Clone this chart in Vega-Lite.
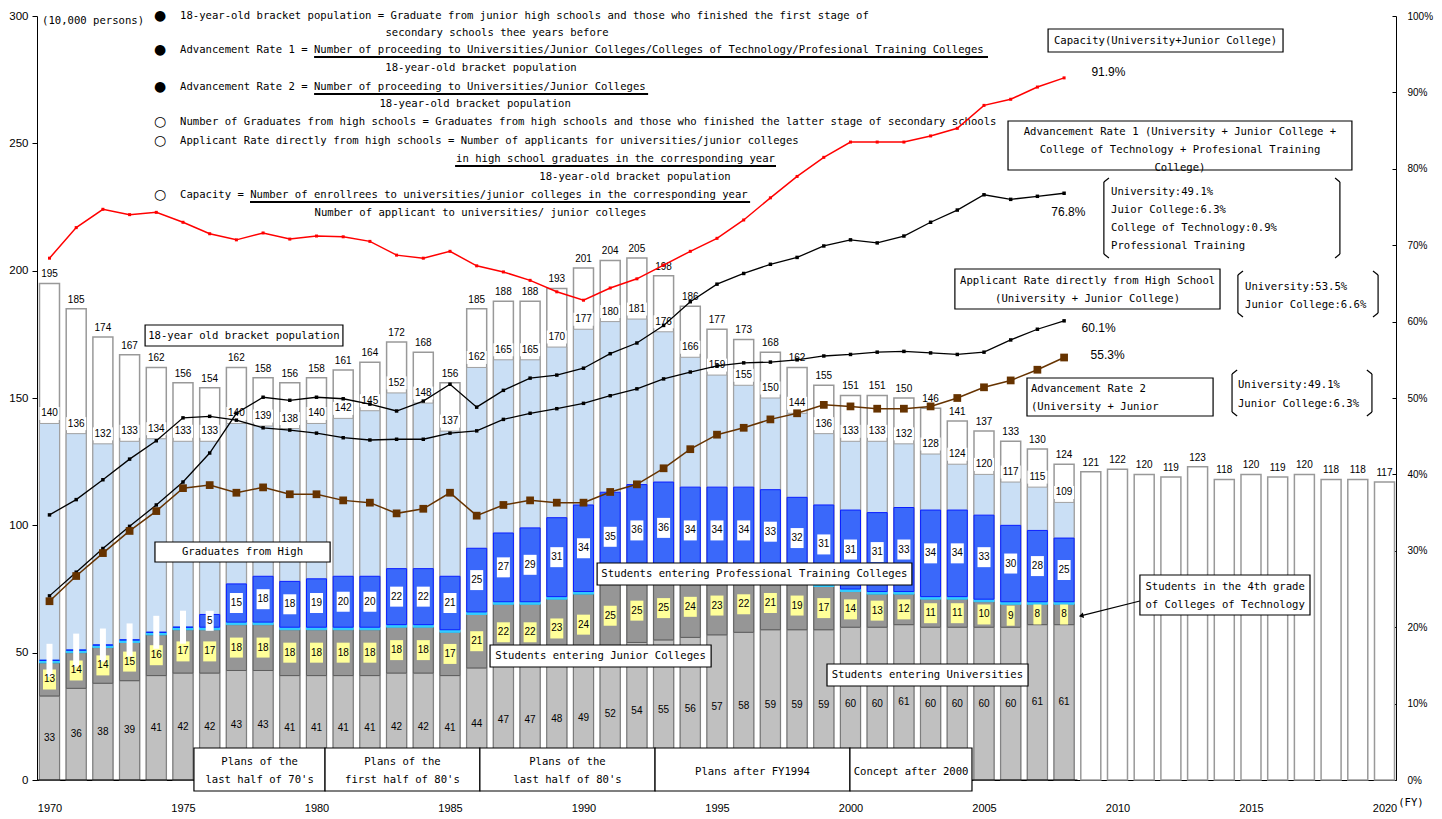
{
"$schema":"https://vega.github.io/schema/vega-lite/v6.json",
"width":1359,"height":764,
"autosize":{"type":"none"},
"padding":{"left":37,"top":16,"right":46,"bottom":39},
"background":"white",
"config":{"view":{"stroke":null},"axis":{"grid":false,"labelColor":"black","domainColor":"black","tickColor":"black"}},
"datasets":{
"bars":[
{"year":1970,"pop":195,"grads":140},{"year":1971,"pop":185,"grads":136},{"year":1972,"pop":174,"grads":132},{"year":1973,"pop":167,"grads":133},{"year":1974,"pop":162,"grads":134},
{"year":1975,"pop":156,"grads":133},{"year":1976,"pop":154,"grads":133},{"year":1977,"pop":162,"grads":140},{"year":1978,"pop":158,"grads":139},{"year":1979,"pop":156,"grads":138},
{"year":1980,"pop":158,"grads":140},{"year":1981,"pop":161,"grads":142},{"year":1982,"pop":164,"grads":145},{"year":1983,"pop":172,"grads":152},{"year":1984,"pop":168,"grads":148},
{"year":1985,"pop":156,"grads":137},{"year":1986,"pop":185,"grads":162},{"year":1987,"pop":188,"grads":165},{"year":1988,"pop":188,"grads":165},{"year":1989,"pop":193,"grads":170},
{"year":1990,"pop":201,"grads":177},{"year":1991,"pop":204,"grads":180},{"year":1992,"pop":205,"grads":181},{"year":1993,"pop":198,"grads":176},{"year":1994,"pop":186,"grads":166},
{"year":1995,"pop":177,"grads":159},{"year":1996,"pop":173,"grads":155},{"year":1997,"pop":168,"grads":150},{"year":1998,"pop":162,"grads":144},{"year":1999,"pop":155,"grads":136},
{"year":2000,"pop":151,"grads":133},{"year":2001,"pop":151,"grads":133},{"year":2002,"pop":150,"grads":132},{"year":2003,"pop":146,"grads":128},{"year":2004,"pop":141,"grads":124},
{"year":2005,"pop":137,"grads":120},{"year":2006,"pop":133,"grads":117},{"year":2007,"pop":130,"grads":115},{"year":2008,"pop":124,"grads":109},
{"year":2009,"pop":121},{"year":2010,"pop":122},{"year":2011,"pop":120},{"year":2012,"pop":119},{"year":2013,"pop":123},{"year":2014,"pop":118},
{"year":2015,"pop":120},{"year":2016,"pop":119},{"year":2017,"pop":120},{"year":2018,"pop":118},{"year":2019,"pop":118},{"year":2020,"pop":117}
],
"seg":[
{"year":1970,"cat":"Univ","k":1,"n":33},{"year":1970,"cat":"JC","k":2,"n":13},{"year":1970,"cat":"Tech","k":3,"n":1},{"year":1970,"cat":"Prof","k":4,"n":0},
{"year":1971,"cat":"Univ","k":1,"n":36},{"year":1971,"cat":"JC","k":2,"n":14},{"year":1971,"cat":"Tech","k":3,"n":1},{"year":1971,"cat":"Prof","k":4,"n":0},
{"year":1972,"cat":"Univ","k":1,"n":38},{"year":1972,"cat":"JC","k":2,"n":14},{"year":1972,"cat":"Tech","k":3,"n":1},{"year":1972,"cat":"Prof","k":4,"n":0},
{"year":1973,"cat":"Univ","k":1,"n":39},{"year":1973,"cat":"JC","k":2,"n":15},{"year":1973,"cat":"Tech","k":3,"n":1},{"year":1973,"cat":"Prof","k":4,"n":0},
{"year":1974,"cat":"Univ","k":1,"n":41},{"year":1974,"cat":"JC","k":2,"n":16},{"year":1974,"cat":"Tech","k":3,"n":1},{"year":1974,"cat":"Prof","k":4,"n":0},
{"year":1975,"cat":"Univ","k":1,"n":42},{"year":1975,"cat":"JC","k":2,"n":17},{"year":1975,"cat":"Tech","k":3,"n":1},{"year":1975,"cat":"Prof","k":4,"n":0},
{"year":1976,"cat":"Univ","k":1,"n":42},{"year":1976,"cat":"JC","k":2,"n":17},{"year":1976,"cat":"Tech","k":3,"n":1},{"year":1976,"cat":"Prof","k":4,"n":5},
{"year":1977,"cat":"Univ","k":1,"n":43},{"year":1977,"cat":"JC","k":2,"n":18},{"year":1977,"cat":"Tech","k":3,"n":1},{"year":1977,"cat":"Prof","k":4,"n":15},
{"year":1978,"cat":"Univ","k":1,"n":43},{"year":1978,"cat":"JC","k":2,"n":18},{"year":1978,"cat":"Tech","k":3,"n":1},{"year":1978,"cat":"Prof","k":4,"n":18},
{"year":1979,"cat":"Univ","k":1,"n":41},{"year":1979,"cat":"JC","k":2,"n":18},{"year":1979,"cat":"Tech","k":3,"n":1},{"year":1979,"cat":"Prof","k":4,"n":18},
{"year":1980,"cat":"Univ","k":1,"n":41},{"year":1980,"cat":"JC","k":2,"n":18},{"year":1980,"cat":"Tech","k":3,"n":1},{"year":1980,"cat":"Prof","k":4,"n":19},
{"year":1981,"cat":"Univ","k":1,"n":41},{"year":1981,"cat":"JC","k":2,"n":18},{"year":1981,"cat":"Tech","k":3,"n":1},{"year":1981,"cat":"Prof","k":4,"n":20},
{"year":1982,"cat":"Univ","k":1,"n":41},{"year":1982,"cat":"JC","k":2,"n":18},{"year":1982,"cat":"Tech","k":3,"n":1},{"year":1982,"cat":"Prof","k":4,"n":20},
{"year":1983,"cat":"Univ","k":1,"n":42},{"year":1983,"cat":"JC","k":2,"n":18},{"year":1983,"cat":"Tech","k":3,"n":1},{"year":1983,"cat":"Prof","k":4,"n":22},
{"year":1984,"cat":"Univ","k":1,"n":42},{"year":1984,"cat":"JC","k":2,"n":18},{"year":1984,"cat":"Tech","k":3,"n":1},{"year":1984,"cat":"Prof","k":4,"n":22},
{"year":1985,"cat":"Univ","k":1,"n":41},{"year":1985,"cat":"JC","k":2,"n":17},{"year":1985,"cat":"Tech","k":3,"n":1},{"year":1985,"cat":"Prof","k":4,"n":21},
{"year":1986,"cat":"Univ","k":1,"n":44},{"year":1986,"cat":"JC","k":2,"n":21},{"year":1986,"cat":"Tech","k":3,"n":1},{"year":1986,"cat":"Prof","k":4,"n":25},
{"year":1987,"cat":"Univ","k":1,"n":47},{"year":1987,"cat":"JC","k":2,"n":22},{"year":1987,"cat":"Tech","k":3,"n":1},{"year":1987,"cat":"Prof","k":4,"n":27},
{"year":1988,"cat":"Univ","k":1,"n":47},{"year":1988,"cat":"JC","k":2,"n":22},{"year":1988,"cat":"Tech","k":3,"n":1},{"year":1988,"cat":"Prof","k":4,"n":29},
{"year":1989,"cat":"Univ","k":1,"n":48},{"year":1989,"cat":"JC","k":2,"n":23},{"year":1989,"cat":"Tech","k":3,"n":1},{"year":1989,"cat":"Prof","k":4,"n":31},
{"year":1990,"cat":"Univ","k":1,"n":49},{"year":1990,"cat":"JC","k":2,"n":24},{"year":1990,"cat":"Tech","k":3,"n":1},{"year":1990,"cat":"Prof","k":4,"n":34},
{"year":1991,"cat":"Univ","k":1,"n":52},{"year":1991,"cat":"JC","k":2,"n":25},{"year":1991,"cat":"Tech","k":3,"n":1},{"year":1991,"cat":"Prof","k":4,"n":35},
{"year":1992,"cat":"Univ","k":1,"n":54},{"year":1992,"cat":"JC","k":2,"n":25},{"year":1992,"cat":"Tech","k":3,"n":1},{"year":1992,"cat":"Prof","k":4,"n":36},
{"year":1993,"cat":"Univ","k":1,"n":55},{"year":1993,"cat":"JC","k":2,"n":25},{"year":1993,"cat":"Tech","k":3,"n":1},{"year":1993,"cat":"Prof","k":4,"n":36},
{"year":1994,"cat":"Univ","k":1,"n":56},{"year":1994,"cat":"JC","k":2,"n":24},{"year":1994,"cat":"Tech","k":3,"n":1},{"year":1994,"cat":"Prof","k":4,"n":34},
{"year":1995,"cat":"Univ","k":1,"n":57},{"year":1995,"cat":"JC","k":2,"n":23},{"year":1995,"cat":"Tech","k":3,"n":1},{"year":1995,"cat":"Prof","k":4,"n":34},
{"year":1996,"cat":"Univ","k":1,"n":58},{"year":1996,"cat":"JC","k":2,"n":22},{"year":1996,"cat":"Tech","k":3,"n":1},{"year":1996,"cat":"Prof","k":4,"n":34},
{"year":1997,"cat":"Univ","k":1,"n":59},{"year":1997,"cat":"JC","k":2,"n":21},{"year":1997,"cat":"Tech","k":3,"n":1},{"year":1997,"cat":"Prof","k":4,"n":33},
{"year":1998,"cat":"Univ","k":1,"n":59},{"year":1998,"cat":"JC","k":2,"n":19},{"year":1998,"cat":"Tech","k":3,"n":1},{"year":1998,"cat":"Prof","k":4,"n":32},
{"year":1999,"cat":"Univ","k":1,"n":59},{"year":1999,"cat":"JC","k":2,"n":17},{"year":1999,"cat":"Tech","k":3,"n":1},{"year":1999,"cat":"Prof","k":4,"n":31},
{"year":2000,"cat":"Univ","k":1,"n":60},{"year":2000,"cat":"JC","k":2,"n":14},{"year":2000,"cat":"Tech","k":3,"n":1},{"year":2000,"cat":"Prof","k":4,"n":31},
{"year":2001,"cat":"Univ","k":1,"n":60},{"year":2001,"cat":"JC","k":2,"n":13},{"year":2001,"cat":"Tech","k":3,"n":1},{"year":2001,"cat":"Prof","k":4,"n":31},
{"year":2002,"cat":"Univ","k":1,"n":61},{"year":2002,"cat":"JC","k":2,"n":12},{"year":2002,"cat":"Tech","k":3,"n":1},{"year":2002,"cat":"Prof","k":4,"n":33},
{"year":2003,"cat":"Univ","k":1,"n":60},{"year":2003,"cat":"JC","k":2,"n":11},{"year":2003,"cat":"Tech","k":3,"n":1},{"year":2003,"cat":"Prof","k":4,"n":34},
{"year":2004,"cat":"Univ","k":1,"n":60},{"year":2004,"cat":"JC","k":2,"n":11},{"year":2004,"cat":"Tech","k":3,"n":1},{"year":2004,"cat":"Prof","k":4,"n":34},
{"year":2005,"cat":"Univ","k":1,"n":60},{"year":2005,"cat":"JC","k":2,"n":10},{"year":2005,"cat":"Tech","k":3,"n":1},{"year":2005,"cat":"Prof","k":4,"n":33},
{"year":2006,"cat":"Univ","k":1,"n":60},{"year":2006,"cat":"JC","k":2,"n":9},{"year":2006,"cat":"Tech","k":3,"n":1},{"year":2006,"cat":"Prof","k":4,"n":30},
{"year":2007,"cat":"Univ","k":1,"n":61},{"year":2007,"cat":"JC","k":2,"n":8},{"year":2007,"cat":"Tech","k":3,"n":1},{"year":2007,"cat":"Prof","k":4,"n":28},
{"year":2008,"cat":"Univ","k":1,"n":61},{"year":2008,"cat":"JC","k":2,"n":8},{"year":2008,"cat":"Tech","k":3,"n":1},{"year":2008,"cat":"Prof","k":4,"n":25}
],
"rates":[
{"year":1970,"cap":68.3,"adv1":24.1,"appl":34.7,"adv2":23.4},{"year":1971,"cap":72.3,"adv1":27.2,"appl":36.7,"adv2":26.7},
{"year":1972,"cap":74.7,"adv1":30.3,"appl":39.3,"adv2":29.7},{"year":1973,"cap":74.0,"adv1":33.2,"appl":42.0,"adv2":32.6},
{"year":1974,"cap":74.3,"adv1":36.0,"appl":44.4,"adv2":35.2},{"year":1975,"cap":73.0,"adv1":39.0,"appl":47.4,"adv2":38.2},
{"year":1976,"cap":71.5,"adv1":42.8,"appl":47.6,"adv2":38.6},{"year":1977,"cap":70.7,"adv1":48.0,"appl":47.1,"adv2":37.6},
{"year":1978,"cap":71.6,"adv1":50.1,"appl":46.1,"adv2":38.3},{"year":1979,"cap":70.8,"adv1":49.7,"appl":45.8,"adv2":37.4},
{"year":1980,"cap":71.2,"adv1":50.1,"appl":45.4,"adv2":37.4},{"year":1981,"cap":71.1,"adv1":49.9,"appl":44.8,"adv2":36.6},
{"year":1982,"cap":70.5,"adv1":49.2,"appl":44.5,"adv2":36.3},{"year":1983,"cap":68.7,"adv1":48.3,"appl":44.6,"adv2":34.9},
{"year":1984,"cap":68.3,"adv1":49.6,"appl":44.6,"adv2":35.5},{"year":1985,"cap":69.2,"adv1":51.8,"appl":45.4,"adv2":37.6},
{"year":1986,"cap":67.3,"adv1":48.8,"appl":45.7,"adv2":34.6},{"year":1987,"cap":66.5,"adv1":51.0,"appl":47.2,"adv2":36.0},
{"year":1988,"cap":65.4,"adv1":52.6,"appl":48.0,"adv2":36.6},{"year":1989,"cap":63.9,"adv1":53.0,"appl":48.6,"adv2":36.3},
{"year":1990,"cap":62.8,"adv1":53.9,"appl":49.3,"adv2":36.3},{"year":1991,"cap":64.4,"adv1":55.8,"appl":50.3,"adv2":37.7},
{"year":1992,"cap":65.6,"adv1":57.2,"appl":51.2,"adv2":38.7},{"year":1993,"cap":67.4,"adv1":59.5,"appl":52.5,"adv2":40.8},
{"year":1994,"cap":69.2,"adv1":62.6,"appl":53.4,"adv2":43.3},{"year":1995,"cap":70.9,"adv1":64.9,"appl":54.2,"adv2":45.2},
{"year":1996,"cap":73.3,"adv1":66.3,"appl":54.6,"adv2":46.1},{"year":1997,"cap":76.2,"adv1":67.5,"appl":54.7,"adv2":47.2},
{"year":1998,"cap":79.0,"adv1":68.4,"appl":55.0,"adv2":48.0},{"year":1999,"cap":81.5,"adv1":69.9,"appl":55.5,"adv2":49.1},
{"year":2000,"cap":83.5,"adv1":70.7,"appl":55.7,"adv2":48.9},{"year":2001,"cap":83.5,"adv1":70.3,"appl":56.0,"adv2":48.6},
{"year":2002,"cap":83.5,"adv1":71.2,"appl":56.1,"adv2":48.6},{"year":2003,"cap":84.3,"adv1":73.0,"appl":55.9,"adv2":48.9},
{"year":2004,"cap":85.3,"adv1":74.6,"appl":55.7,"adv2":50.0},{"year":2005,"cap":88.3,"adv1":76.6,"appl":56.0,"adv2":51.4},
{"year":2006,"cap":89.1,"adv1":76.0,"appl":57.6,"adv2":52.3},{"year":2007,"cap":90.7,"adv1":76.4,"appl":59.0,"adv2":53.7},
{"year":2008,"cap":91.9,"adv1":76.8,"appl":60.1,"adv2":55.3}
],
"boxes":[
{"year":1973.58,"year2":1980.99,"level":170.42,"level2":178.66},
{"year":1973.95,"year2":1980.51,"level":85.60,"level2":93.45},
{"year":1990.51,"year2":2002.30,"level":76.57,"level2":85.21},
{"year":1986.50,"year2":1994.78,"level":44.37,"level2":53.01},
{"year":1999.12,"year2":2006.65,"level":36.91,"level2":45.55},
{"year":2010.84,"year2":2017.21,"level":64.79,"level2":80.50},
{"year":2007.40,"year2":2016.20,"level":285.86,"level2":294.89},
{"year":2005.90,"year2":2018.78,"level":239.53,"level2":258.77},
{"year":2003.91,"year2":2013.84,"level":184.94,"level2":200.65},
{"year":2006.61,"year2":2013.58,"level":142.93,"level2":157.85},
{"year":1975.41,"year2":1980.32,"level":-4.32,"level2":12.57},
{"year":1980.32,"year2":1986.12,"level":-4.32,"level2":12.57},
{"year":1986.12,"year2":1992.68,"level":-4.32,"level2":12.57},
{"year":1992.68,"year2":1999.98,"level":-4.32,"level2":12.57},
{"year":1999.98,"year2":2004.55,"level":-4.32,"level2":12.57}
],
"segs":[
{"year":1969.532,"year2":2008.5,"level":0,"level2":0},
{"year":2009.49,"year2":2009.49,"level":234.81,"level2":206.54},
{"year":2009.49,"year2":2009.68,"level":234.81,"level2":236.38},
{"year":2009.49,"year2":2009.68,"level":206.54,"level2":204.97},
{"year":2018.33,"year2":2018.33,"level":234.81,"level2":206.54},
{"year":2018.33,"year2":2018.15,"level":234.81,"level2":236.38},
{"year":2018.33,"year2":2018.15,"level":206.54,"level2":204.97},
{"year":2014.51,"year2":2014.51,"level":198.30,"level2":183.37},
{"year":2014.51,"year2":2014.70,"level":198.30,"level2":199.87},
{"year":2014.51,"year2":2014.70,"level":183.37,"level2":181.80},
{"year":2019.76,"year2":2019.76,"level":198.30,"level2":183.37},
{"year":2019.76,"year2":2019.57,"level":198.30,"level2":199.87},
{"year":2019.76,"year2":2019.57,"level":183.37,"level2":181.80},
{"year":2014.29,"year2":2014.29,"level":159.42,"level2":144.50},
{"year":2014.29,"year2":2014.48,"level":159.42,"level2":160.99},
{"year":2014.29,"year2":2014.48,"level":144.50,"level2":142.93},
{"year":2019.53,"year2":2019.53,"level":159.42,"level2":144.50},
{"year":2019.53,"year2":2019.34,"level":159.42,"level2":160.99},
{"year":2019.53,"year2":2019.34,"level":144.50,"level2":142.93},
{"year":2010.84,"year2":2008.62,"level":70.29,"level2":64.45}
],
"ulines":[
{"year":1979.91,"year2":2005.15,"level":283.90,"level2":283.90},
{"year":1979.91,"year2":1992.42,"level":269.37,"level2":269.37},
{"year":1985.19,"year2":1997.21,"level":241.10,"level2":241.10},
{"year":1977.51,"year2":1996.24,"level":226.96,"level2":226.96}
],
"arrow":[{"year":2008.64,"level":64.5}],
"notesC":[
{"t":"18-year old bracket population","year":1977.28,"level":174.34},
{"t":"Graduates from High","year":1977.23,"level":89.53},
{"t":"Students entering Professional Training Colleges","year":1996.40,"level":80.89},
{"t":"Students entering Junior Colleges","year":1990.64,"level":48.69},
{"t":"Students entering Universities","year":2002.88,"level":41.23},
{"t":"Students in the 4th grade","year":2014.03,"level":75.78},
{"t":"of Colleges of Technology","year":2014.03,"level":68.72},
{"t":"Capacity(University+Junior College)","year":2011.80,"level":290.18},
{"t":"Advancement Rate 1 (University + Junior College +","year":2012.34,"level":254.45},
{"t":"College of Technology + Profesional Training","year":2012.34,"level":247.38},
{"t":"College)","year":2012.34,"level":240.31},
{"t":"Applicant Rate directly from High School","year":2008.88,"level":195.94},
{"t":"(University + Junior College)","year":2008.88,"level":188.87},
{"t":"Plans of the","year":1977.87,"level":7.07},
{"t":"last half of 70's","year":1977.87,"level":0.0},
{"t":"Plans of the","year":1983.22,"level":7.07},
{"t":"first half of 80's","year":1983.22,"level":0.0},
{"t":"Plans of the","year":1989.40,"level":7.07},
{"t":"last half of 80's","year":1989.40,"level":0.0},
{"t":"Plans after FY1994","year":1996.33,"level":3.14},
{"t":"Concept after 2000","year":2002.27,"level":3.14},
{"t":"secondary schools thee years before","year":1986.76,"level":293.32},
{"t":"18-year-old bracket population","year":1986.16,"level":279.58},
{"t":"18-year-old bracket population","year":1985.94,"level":265.44},
{"t":"in high school graduates in the corresponding year","year":1991.20,"level":243.84},
{"t":"18-year-old bracket population","year":1991.93,"level":236.78},
{"t":"Number of applicant to universities/ junior colleges","year":1986.14,"level":222.64},
{"t":"(FY)","year":2020.99,"level":-9.03}
],
"notesL":[
{"t":"18-year-old bracket population = Graduate from junior high schools and those who finished the first stage of","year":1974.89,"level":300.0},
{"t":"Advancement Rate 1 = Number of proceeding to Universities/Junior Colleges/Colleges of Technology/Profesional Training Colleges","year":1974.89,"level":286.64},
{"t":"Advancement Rate 2 = Number of proceeding to Universities/Junior Colleges","year":1974.89,"level":272.12},
{"t":"Number of Graduates from high schools = Graduates from high schools and those who finished the latter stage of secondary schools","year":1974.89,"level":258.37},
{"t":"Applicant Rate directly from high schools = Number of applicants for universities/junior colleges","year":1974.89,"level":250.91},
{"t":"Capacity = Number of enrollrees to universities/junior colleges in the corresponding year","year":1974.89,"level":229.71},
{"t":"University:49.1%","year":2009.76,"level":230.89},
{"t":"Juior College:6.3%","year":2009.76,"level":223.82},
{"t":"College of Technology:0.9%","year":2009.76,"level":216.75},
{"t":"Professional Training","year":2009.76,"level":209.68},
{"t":"University:53.5%","year":2014.78,"level":193.58},
{"t":"Junior College:6.6%","year":2014.78,"level":186.52},
{"t":"Advancement Rate 2","year":2006.76,"level":153.53},
{"t":"(University + Junior","year":2006.76,"level":146.46},
{"t":"University:49.1%","year":2014.51,"level":155.10},
{"t":"Junior College:6.3%","year":2014.51,"level":147.64},
{"t":"(10,000 persons)","year":1969.72,"level":298.03}
],
"bullets":[
{"t":"●","year":1974.14,"level":300.0},{"t":"●","year":1974.14,"level":286.64},{"t":"●","year":1974.14,"level":272.12},
{"t":"○","year":1974.14,"level":258.37},{"t":"○","year":1974.14,"level":250.91},{"t":"○","year":1974.14,"level":229.71}
],
"pcts":[
{"t":"91.9%","year":2009.66,"level":278.01},{"t":"76.8%","year":2008.16,"level":223.03},
{"t":"60.1%","year":2009.29,"level":177.48},{"t":"55.3%","year":2009.63,"level":166.88}
]
},
"encoding":{
 "x":{"field":"year","type":"quantitative","scale":{"domain":[1969.532,2020.431],"nice":false,"zero":false,"padding":0},
      "axis":{"values":[1970,1975,1980,1985,1990,1995,2000,2005,2010,2015,2020],"format":"d","tickSize":0,"labelPadding":22,"title":null,"labelFont":"Liberation Sans","labelFontSize":11}}
},
"layer":[
{"layer":[
{"data":{"name":"bars"},
 "mark":{"type":"bar","size":20,"orient":"vertical","fill":"white","stroke":"#999999","strokeWidth":1.5},
 "encoding":{
  "y":{"field":"pop","type":"quantitative","scale":{"domain":[0,300],"nice":false,"zero":false},
       "axis":{"values":[0,50,100,150,200,250,300],"title":null,"tickSize":5,"labelPadding":4,"labelFont":"Liberation Sans","labelFontSize":11.5}}}},
{"data":{"name":"bars"},"transform":[{"filter":"isValid(datum.grads)"}],
 "mark":{"type":"bar","size":20,"orient":"vertical","fill":"#CADFF5","stroke":"#A0A0A0","strokeWidth":1},
 "encoding":{
  "y":{"field":"grads","type":"quantitative","scale":{"domain":[0,300],"nice":false,"zero":false},
       "axis":{"values":[0,50,100,150,200,250,300],"title":null,"tickSize":5,"labelPadding":4,"labelFont":"Liberation Sans","labelFontSize":11.5}}}},
{"data":{"name":"seg"},
 "mark":{"type":"bar","size":20,"orient":"vertical","strokeWidth":1},
 "encoding":{
  "y":{"field":"n","type":"quantitative","stack":"zero","scale":{"domain":[0,300],"nice":false,"zero":false},
       "axis":{"values":[0,50,100,150,200,250,300],"title":null,"tickSize":5,"labelPadding":4,"labelFont":"Liberation Sans","labelFontSize":11.5}},
  "detail":{"field":"cat"},
  "order":{"field":"k","type":"quantitative"},
  "fill":{"condition":[{"test":"datum.cat==='Univ'","value":"#C0C0C0"},{"test":"datum.cat==='JC'","value":"#969696"},{"test":"datum.cat==='Tech'","value":"#33CCFF"}],"value":"#3A68FA"},
  "stroke":{"condition":[{"test":"datum.cat==='Univ'","value":"#7A7A7A"},{"test":"datum.cat==='JC'","value":"#5E5E5E"},{"test":"datum.cat==='Tech'","value":"#33CCFF"}],"value":"#0A1EFF"}}},
{"data":{"name":"seg"},
 "mark":{"type":"tick","orient":"horizontal","thickness":20},
 "encoding":{
  "y":{"field":"n","type":"quantitative","stack":"zero","bandPosition":0.5,"scale":{"domain":[0,300],"nice":false,"zero":false},
       "axis":{"values":[0,50,100,150,200,250,300],"title":null,"tickSize":5,"labelPadding":4,"labelFont":"Liberation Sans","labelFontSize":11.5}},
  "detail":{"field":"cat"},
  "order":{"field":"k","type":"quantitative"},
  "size":{"condition":{"test":"datum.n<10","value":8},"value":13},
  "fill":{"condition":{"test":"datum.cat==='JC'","value":"#FFFF99"},"value":"white"},
  "opacity":{"condition":{"test":"(datum.cat==='JC'||datum.cat==='Prof')&&datum.n>0","value":1},"value":0}}},
{"data":{"name":"seg"},
 "mark":{"type":"tick","orient":"horizontal","thickness":33,"size":6},
 "encoding":{
  "y":{"field":"n","type":"quantitative","stack":"zero","bandPosition":0.5,"scale":{"domain":[0,300],"nice":false,"zero":false},
       "axis":{"values":[0,50,100,150,200,250,300],"title":null,"tickSize":5,"labelPadding":4,"labelFont":"Liberation Sans","labelFontSize":11.5}},
  "detail":{"field":"cat"},
  "order":{"field":"k","type":"quantitative"},
  "fill":{"value":"white"},
  "opacity":{"condition":{"test":"datum.cat==='Prof'&&datum.n===0","value":1},"value":0}}},
{"data":{"name":"seg"},
 "mark":{"type":"text","font":"Liberation Sans Narrow, Liberation Sans","fontSize":10,"baseline":"middle","color":"black"},
 "encoding":{
  "y":{"field":"n","type":"quantitative","stack":"zero","bandPosition":0.5,"scale":{"domain":[0,300],"nice":false,"zero":false},
       "axis":{"values":[0,50,100,150,200,250,300],"title":null,"tickSize":5,"labelPadding":4,"labelFont":"Liberation Sans","labelFontSize":11.5}},
  "detail":{"field":"cat"},
  "order":{"field":"k","type":"quantitative"},
  "text":{"field":"n","type":"quantitative"},
  "opacity":{"condition":{"test":"datum.cat==='Tech'||datum.n===0","value":0},"value":1}}},
{"data":{"name":"bars"},"transform":[{"filter":"isValid(datum.grads)"}],
 "mark":{"type":"tick","orient":"horizontal","thickness":13,"size":20,"fill":"white","opacity":1,"yOffset":-10},
 "encoding":{
  "y":{"field":"grads","type":"quantitative","scale":{"domain":[0,300],"nice":false,"zero":false},
       "axis":{"values":[0,50,100,150,200,250,300],"title":null,"tickSize":5,"labelPadding":4,"labelFont":"Liberation Sans","labelFontSize":11.5}}}},
{"data":{"name":"bars"},
 "mark":{"type":"text","font":"Liberation Sans Narrow, Liberation Sans","fontSize":10,"baseline":"middle","dy":-9,"color":"black"},
 "encoding":{
  "y":{"field":"pop","type":"quantitative","scale":{"domain":[0,300],"nice":false,"zero":false},
       "axis":{"values":[0,50,100,150,200,250,300],"title":null,"tickSize":5,"labelPadding":4,"labelFont":"Liberation Sans","labelFontSize":11.5}},
  "text":{"field":"pop","type":"quantitative"}}},
{"data":{"name":"bars"},"transform":[{"filter":"isValid(datum.grads)"}],
 "mark":{"type":"text","font":"Liberation Sans Narrow, Liberation Sans","fontSize":10,"baseline":"middle","dy":-10,"color":"black"},
 "encoding":{
  "y":{"field":"grads","type":"quantitative","scale":{"domain":[0,300],"nice":false,"zero":false},
       "axis":{"values":[0,50,100,150,200,250,300],"title":null,"tickSize":5,"labelPadding":4,"labelFont":"Liberation Sans","labelFontSize":11.5}},
  "text":{"field":"grads","type":"quantitative"}}},
{"data":{"name":"segs"},
 "mark":{"type":"rule","color":"black","strokeWidth":1.2},
 "encoding":{
  "x2":{"field":"year2"},
  "y":{"field":"level","type":"quantitative","scale":{"domain":[0,300],"nice":false,"zero":false},
       "axis":{"values":[0,50,100,150,200,250,300],"title":null,"tickSize":5,"labelPadding":4,"labelFont":"Liberation Sans","labelFontSize":11.5}},
  "y2":{"field":"level2"}}},
{"data":{"name":"boxes"},
 "mark":{"type":"rect","fill":"white","stroke":"black","strokeWidth":1.2},
 "encoding":{
  "x2":{"field":"year2"},
  "y":{"field":"level","type":"quantitative","scale":{"domain":[0,300],"nice":false,"zero":false},
       "axis":{"values":[0,50,100,150,200,250,300],"title":null,"tickSize":5,"labelPadding":4,"labelFont":"Liberation Sans","labelFontSize":11.5}},
  "y2":{"field":"level2"}}},
{"data":{"name":"ulines"},
 "mark":{"type":"rule","color":"black","strokeWidth":2},
 "encoding":{
  "x2":{"field":"year2"},
  "y":{"field":"level","type":"quantitative","scale":{"domain":[0,300],"nice":false,"zero":false},
       "axis":{"values":[0,50,100,150,200,250,300],"title":null,"tickSize":5,"labelPadding":4,"labelFont":"Liberation Sans","labelFontSize":11.5}},
  "y2":{"field":"level2"}}},
{"data":{"name":"arrow"},
 "mark":{"type":"point","shape":"triangle-left","size":30,"filled":true,"color":"black","opacity":1,"angle":347},
 "encoding":{
  "y":{"field":"level","type":"quantitative","scale":{"domain":[0,300],"nice":false,"zero":false},
       "axis":{"values":[0,50,100,150,200,250,300],"title":null,"tickSize":5,"labelPadding":4,"labelFont":"Liberation Sans","labelFontSize":11.5}}}},
{"data":{"name":"notesC"},
 "mark":{"type":"text","font":"DejaVu Sans Mono","fontSize":10.6,"align":"center","baseline":"middle","color":"black"},
 "encoding":{
  "y":{"field":"level","type":"quantitative","scale":{"domain":[0,300],"nice":false,"zero":false},
       "axis":{"values":[0,50,100,150,200,250,300],"title":null,"tickSize":5,"labelPadding":4,"labelFont":"Liberation Sans","labelFontSize":11.5}},
  "text":{"field":"t","type":"nominal"}}},
{"data":{"name":"notesL"},
 "mark":{"type":"text","font":"DejaVu Sans Mono","fontSize":10.6,"align":"left","baseline":"middle","color":"black"},
 "encoding":{
  "y":{"field":"level","type":"quantitative","scale":{"domain":[0,300],"nice":false,"zero":false},
       "axis":{"values":[0,50,100,150,200,250,300],"title":null,"tickSize":5,"labelPadding":4,"labelFont":"Liberation Sans","labelFontSize":11.5}},
  "text":{"field":"t","type":"nominal"}}},
{"data":{"name":"bullets"},
 "mark":{"type":"text","font":"DejaVu Sans","fontSize":14,"align":"center","baseline":"middle","color":"black"},
 "encoding":{
  "y":{"field":"level","type":"quantitative","scale":{"domain":[0,300],"nice":false,"zero":false},
       "axis":{"values":[0,50,100,150,200,250,300],"title":null,"tickSize":5,"labelPadding":4,"labelFont":"Liberation Sans","labelFontSize":11.5}},
  "text":{"field":"t","type":"nominal"}}},
{"data":{"name":"pcts"},
 "mark":{"type":"text","font":"Liberation Sans","fontSize":12,"align":"center","baseline":"middle","color":"black"},
 "encoding":{
  "y":{"field":"level","type":"quantitative","scale":{"domain":[0,300],"nice":false,"zero":false},
       "axis":{"values":[0,50,100,150,200,250,300],"title":null,"tickSize":5,"labelPadding":4,"labelFont":"Liberation Sans","labelFontSize":11.5}},
  "text":{"field":"t","type":"nominal"}}}
]},
{"layer":[
{"data":{"name":"rates"},
 "mark":{"type":"line","color":"#FF0000","strokeWidth":1.5,"point":{"shape":"square","size":9,"filled":true,"color":"#FF0000","opacity":1}},
 "encoding":{
  "y":{"field":"cap","type":"quantitative","scale":{"domain":[0,100],"nice":false,"zero":false},
       "axis":{"orient":"right","values":[0,10,20,30,40,50,60,70,80,90,100],"labelExpr":"datum.value + '%'","title":null,"tickSize":-4,"labelPadding":15,"labelFont":"Liberation Sans","labelFontSize":10}}}},
{"data":{"name":"rates"},
 "mark":{"type":"line","color":"black","strokeWidth":1.3,"point":{"shape":"square","size":12,"filled":true,"color":"black","opacity":1}},
 "encoding":{
  "y":{"field":"adv1","type":"quantitative","scale":{"domain":[0,100],"nice":false,"zero":false},
       "axis":{"orient":"right","values":[0,10,20,30,40,50,60,70,80,90,100],"labelExpr":"datum.value + '%'","title":null,"tickSize":-4,"labelPadding":15,"labelFont":"Liberation Sans","labelFontSize":10}}}},
{"data":{"name":"rates"},
 "mark":{"type":"line","color":"black","strokeWidth":1.3,"point":{"shape":"square","size":12,"filled":true,"color":"black","opacity":1}},
 "encoding":{
  "y":{"field":"appl","type":"quantitative","scale":{"domain":[0,100],"nice":false,"zero":false},
       "axis":{"orient":"right","values":[0,10,20,30,40,50,60,70,80,90,100],"labelExpr":"datum.value + '%'","title":null,"tickSize":-4,"labelPadding":15,"labelFont":"Liberation Sans","labelFontSize":10}}}},
{"data":{"name":"rates"},
 "mark":{"type":"line","color":"#663300","strokeWidth":1.5,"point":{"shape":"square","size":60,"filled":true,"color":"#663300","opacity":1}},
 "encoding":{
  "y":{"field":"adv2","type":"quantitative","scale":{"domain":[0,100],"nice":false,"zero":false},
       "axis":{"orient":"right","values":[0,10,20,30,40,50,60,70,80,90,100],"labelExpr":"datum.value + '%'","title":null,"tickSize":-4,"labelPadding":15,"labelFont":"Liberation Sans","labelFontSize":10}}}}
]}
],
"resolve":{"scale":{"y":"independent"}}
}
